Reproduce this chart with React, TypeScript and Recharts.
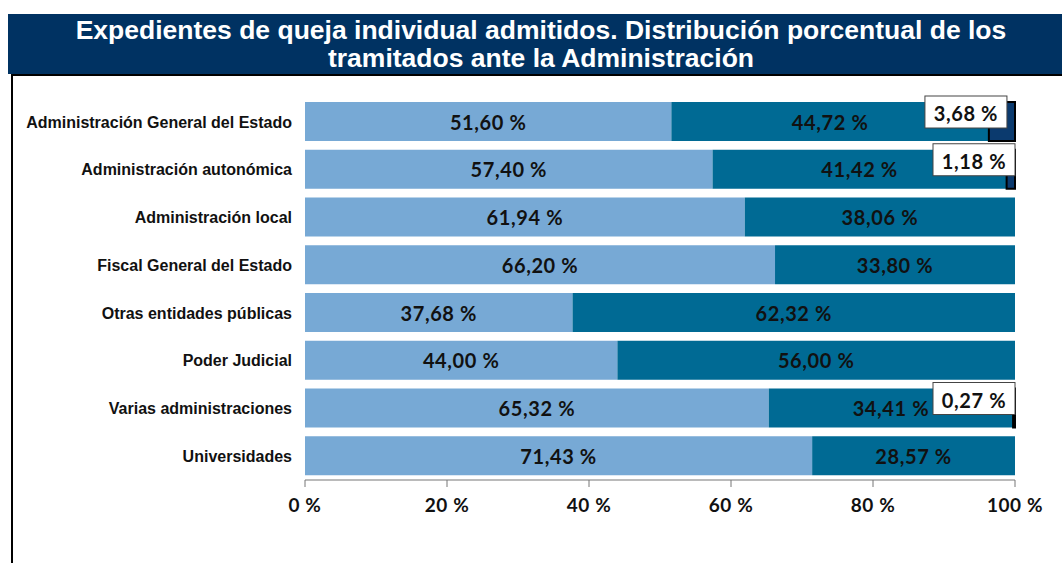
import { Bar, BarChart, LabelList, XAxis, YAxis } from "recharts"

const categories = [
  "Administración General del Estado",
  "Administración autonómica",
  "Administración local",
  "Fiscal General del Estado",
  "Otras entidades públicas",
  "Poder Judicial",
  "Varias administraciones",
  "Universidades",
]
const serieA = [51.6, 57.4, 61.94, 66.2, 37.68, 44.0, 65.32, 71.43]
const serieB = [44.72, 41.42, 38.06, 33.8, 62.32, 56.0, 34.41, 28.57]
const serieC = [3.68, 1.18, 0, 0, 0, 0, 0.27, 0]
const xTicks = [0, 20, 40, 60, 80, 100]

const data = categories.map((name, i) => ({
  name,
  a: serieA[i],
  b: serieB[i],
  c: serieC[i],
}))

const fmt = (v: any) => `${Number(v).toFixed(2).replace(".", ",")} %`

const labelStyle = { fill: "#111", fontSize: 20, fontWeight: 700, fontFamily: "Lato", letterSpacing: 0.6 }

// white boxed label for the small third segment
const BoxLabel = (props: any) => {
  const vb = props.viewBox || props
  const x = props.x ?? vb.x
  const y = props.y ?? vb.y
  const width = props.width ?? vb.width
  const value = props.value
  if (!value) return null
  const right = Math.min(x + width / 2 + 5, 1015)
  const w = 82
  const h = 32
  return (
    <g>
      <rect x={right - w} y={y - 6} width={w} height={h} fill="#fff" stroke="#444" strokeWidth={1} />
      <text
        x={right - w / 2}
        y={y - 6 + h / 2 + 1}
        textAnchor="middle"
        dominantBaseline="central"
        style={labelStyle}
      >
        {fmt(value)}
      </text>
    </g>
  )
}

export default function App() {
  return (
    <div style={{ position: "absolute", left: 0, top: 0, width: 1062, height: 563, background: "#fff", overflow: "hidden" }}>
      <div
        style={{
          position: "absolute",
          left: 8,
          top: 14,
          width: 1054,
          height: 60,
          background: "#003262",
          color: "#fff",
          fontFamily: "Liberation Sans",
          fontWeight: 700,
          fontSize: 26.5,
          lineHeight: "28px",
          textAlign: "center",
          paddingLeft: 12,
          boxSizing: "border-box",
          paddingTop: 2,
          whiteSpace: "nowrap",
        }}
      >
        Expedientes de queja individual admitidos. Distribución porcentual de los
        <br />
        tramitados ante la Administración
      </div>
      <div
        style={{
          position: "absolute",
          left: 11,
          top: 74,
          width: 1100,
          height: 600,
          borderLeft: "2px solid #000",
          borderTop: "2px solid #000",
        }}
      />
      <div style={{ position: "absolute", left: 0, top: 0 }}>
        <BarChart
          width={1062}
          height={563}
          data={data}
          layout="vertical"
          margin={{ top: 98, right: 47, left: 10, bottom: 43 }}
          barSize={39}
        >
          <XAxis
            type="number"
            domain={[0, 100]}
            ticks={xTicks}
            tickFormatter={(v) => `${v} %`}
            axisLine={{ stroke: "#777" }}
            tickLine={{ stroke: "#777" }}
            tickSize={7}
            tickMargin={12}
            height={40}
            tick={{ fill: "#111", fontSize: 19, fontWeight: 700, fontFamily: "Lato", letterSpacing: 0.6 }}
          />
          <YAxis
            type="category"
            dataKey="name"
            width={295}
            axisLine={false}
            tickLine={false}
            tickSize={0}
            tickMargin={13}
            tick={{ fill: "#111", fontSize: 16, fontWeight: 700, fontFamily: "Liberation Sans" }}
          />
          <Bar dataKey="a" stackId="s" fill="#77A9D5" isAnimationActive={false}>
            <LabelList dataKey="a" position="center" formatter={fmt} style={labelStyle} offset={0} dy={1} />
          </Bar>
          <Bar dataKey="b" stackId="s" fill="#006A94" isAnimationActive={false}>
            <LabelList dataKey="b" position="center" formatter={fmt} style={labelStyle} offset={0} dy={1} />
          </Bar>
          <Bar dataKey="c" stackId="s" fill="#0B3A6E" stroke="#000" strokeWidth={2} isAnimationActive={false}>
            <LabelList dataKey="c" content={BoxLabel} />
          </Bar>
        </BarChart>
      </div>
    </div>
  )
}
